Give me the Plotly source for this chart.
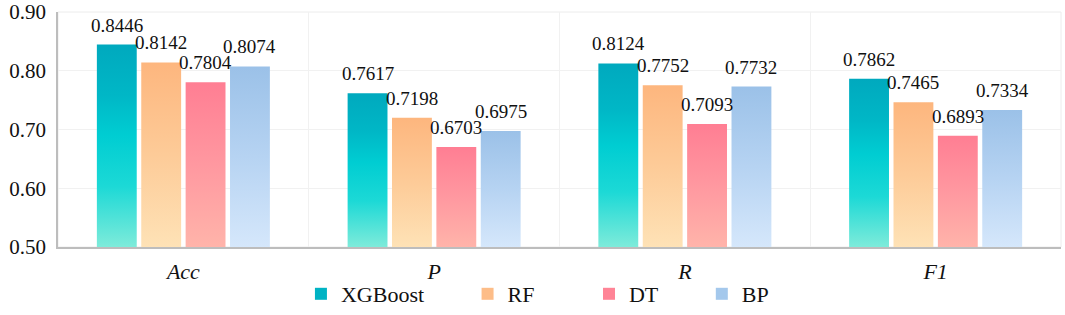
import plotly.graph_objects as go

categories = ["Acc", "P", "R", "F1"]
models = ["XGBoost", "RF", "DT", "BP"]
xgboost = [0.8446, 0.7617, 0.8124, 0.7862]
rf = [0.8142, 0.7198, 0.7752, 0.7465]
dt = [0.7804, 0.6703, 0.7093, 0.6893]
bp = [0.8074, 0.6975, 0.7732, 0.7334]
yticks = [0.50, 0.60, 0.70, 0.80, 0.90]

series = [xgboost, rf, dt, bp]
gradients = [
    [[0, "#7EEBDA"], [0.3, "#1CD9D6"], [0.55, "#00CDD2"], [0.75, "#00B7C6"], [1, "#00A9BE"]],
    [[0, "#FEE2B6"], [0.5, "#FDCB98"], [1, "#FDB67E"]],
    [[0, "#FFB4AA"], [0.5, "#FF98A0"], [1, "#FF7E93"]],
    [[0, "#D5E7FB"], [0.5, "#B6D3F2"], [1, "#9BC1E8"]],
]
legend_colors = ["#00B3C4", "#FDBD88", "#FF8496", "#A4C8EC"]

FONT = "Liberation Serif"
base = 0.5
step = 0.177
width = 0.159
pads = [7, 9, 7, 0]

fig = go.Figure()

for i, (name, vals) in enumerate(zip(models, series)):
    off = (i - 1.5) * step
    for j, v in enumerate(vals):
        c = j + off
        fig.add_trace(go.Scatter(
            x=[c - width / 2, c + width / 2, c + width / 2, c - width / 2, c - width / 2],
            y=[base, base, v, v, base],
            fill="toself",
            mode="lines",
            line=dict(width=0),
            fillgradient=dict(type="vertical", colorscale=gradients[i], start=base, stop=v),
            showlegend=False,
            hoverinfo="skip",
        ))
        fig.add_annotation(
            x=c, y=v, text=f"{v:.4f}", showarrow=False,
            yanchor="bottom", yshift=7,
            font=dict(family=FONT, size=19, color="#111"),
        )
    fig.add_trace(go.Bar(
        x=[None], y=[None], name=name + "\u00a0" * pads[i],
        marker=dict(color=legend_colors[i], line=dict(width=0)),
    ))

fig.update_layout(
    width=1065, height=315,
    margin=dict(l=58, r=4, t=12, b=68, autoexpand=False),
    paper_bgcolor="white",
    plot_bgcolor="white",
    font=dict(family=FONT, size=20, color="#111"),
    showlegend=True,
    legend=dict(
        orientation="h", x=0.478, xanchor="center",
        yref="container", y=-0.035, yanchor="bottom",
        font=dict(family=FONT, size=22, color="#111"),
        itemsizing="constant", traceorder="normal",
        bgcolor="rgba(0,0,0,0)",
    ),
    xaxis=dict(
        range=[-0.5, 3.5],
        tickvals=[0, 1, 2, 3],
        ticktext=[f"<i>{c}</i>" for c in categories],
        tickfont=dict(family=FONT, size=22, color="#111"),
        ticklabelstandoff=4,
        showgrid=False,
        zeroline=False,
        showline=True, linecolor="#BDBDBD", linewidth=1.5,
        ticks="", ticklen=0,
        minor=dict(tickvals=[0.5, 1.5, 2.5], showgrid=True, gridcolor="#F1F1F1", gridwidth=1, ticks=""),
        fixedrange=True,
    ),
    yaxis=dict(
        range=[0.5, 0.9],
        tickvals=yticks,
        ticktext=[f"{t:.2f}" for t in yticks],
        tickfont=dict(family=FONT, size=21, color="#111"),
        ticklabelstandoff=6,
        showgrid=True, gridcolor="#F1F1F1", gridwidth=1,
        zeroline=False,
        showline=True, linecolor="#BDBDBD", linewidth=1.5,
        ticks="", ticklen=0,
    ),
)

fig.add_shape(type="rect", xref="paper", yref="paper", x0=0, x1=1, y0=0, y1=1,
              line=dict(color="#ECECEC", width=1), layer="below")

fig.write_html("out.html", config={"displayModeBar": False},
               post_script="document.body.style.margin='0';")
